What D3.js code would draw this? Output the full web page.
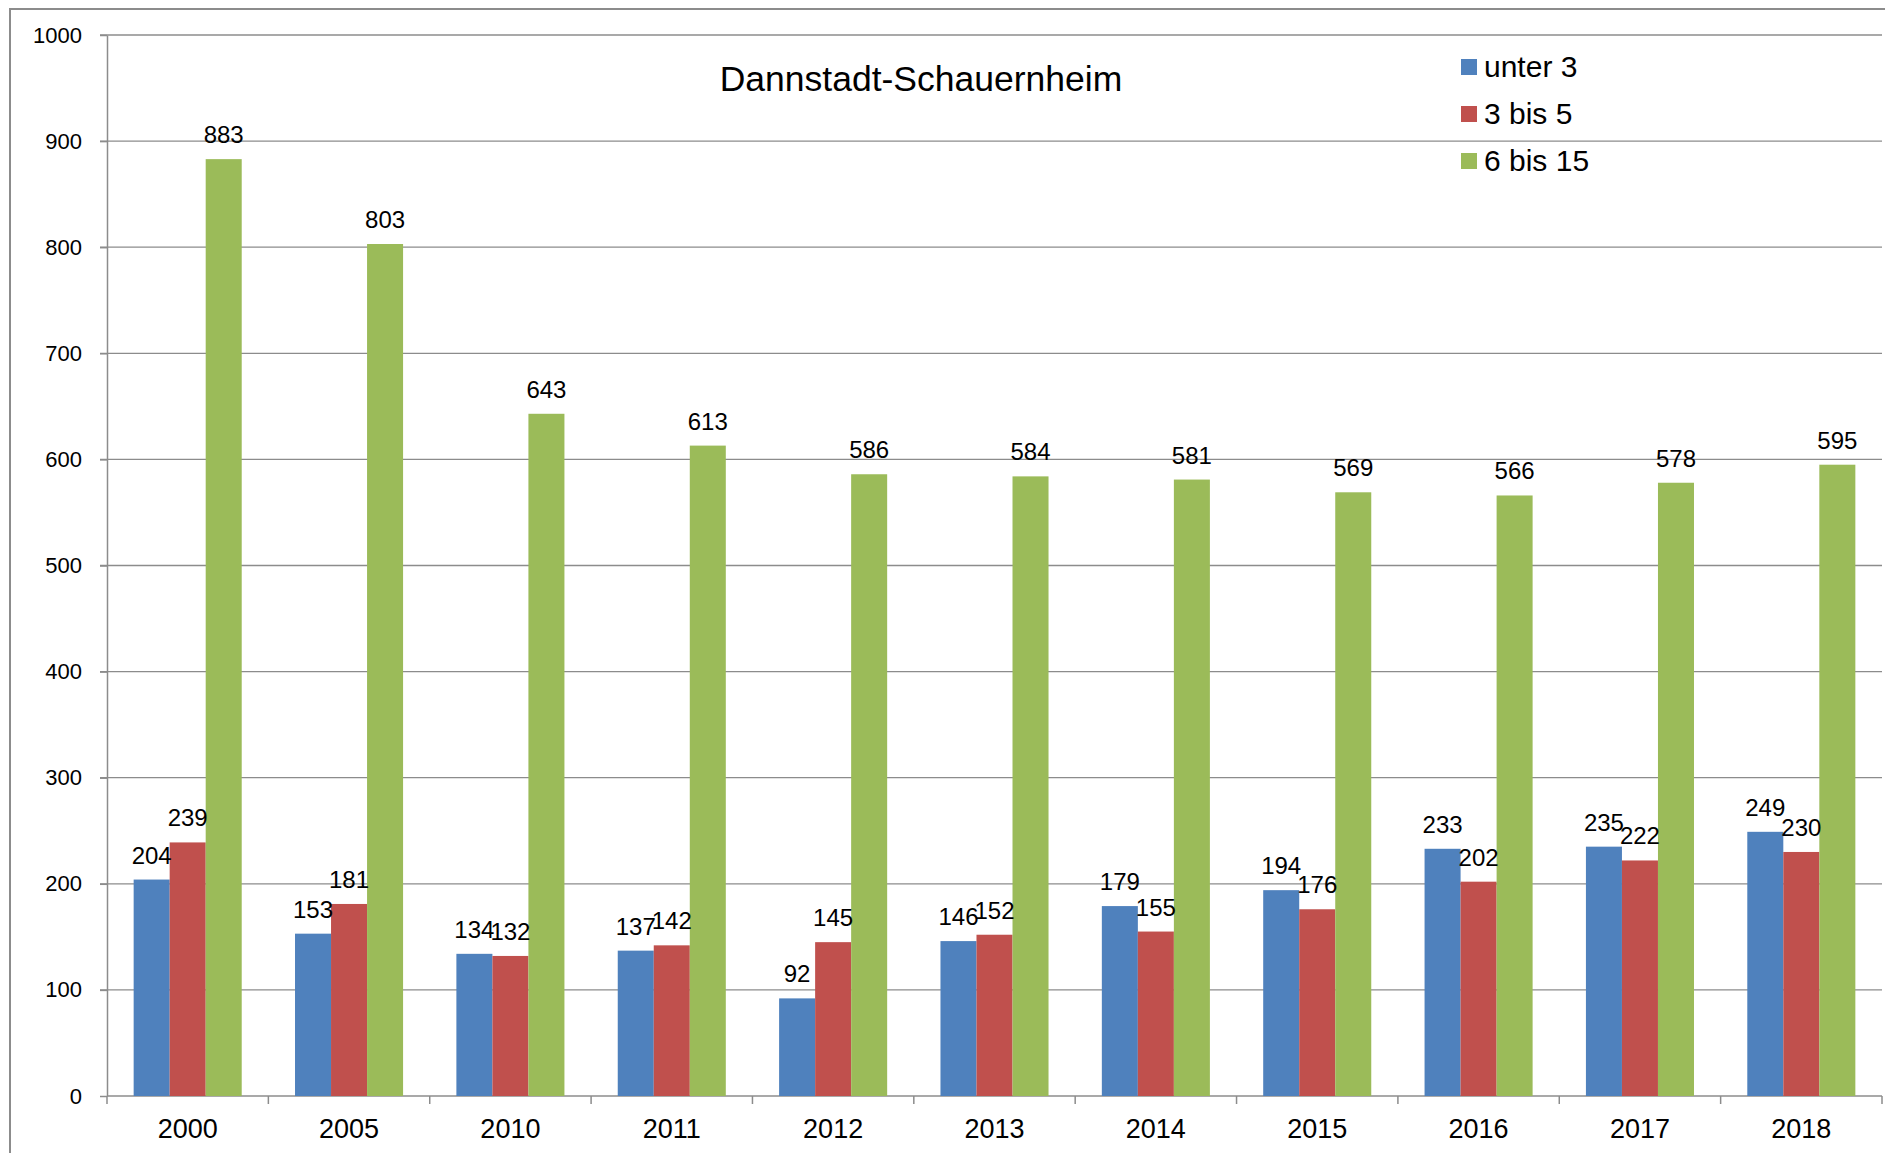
<!DOCTYPE html>
<html>
<head>
<meta charset="utf-8">
<script src="https://cdn.jsdelivr.net/npm/d3@7"></script>
<style>
  body { margin: 0; background: #fff; }
  svg { display: block; font-family: "Liberation Sans", Arial, sans-serif; }
  .grid line { stroke: #8c8c8c; stroke-width: 1.3; }
  .axis path, .axis line { stroke: #8c8c8c; stroke-width: 1.5; }
</style>
</head>
<body>
<div id="chart"></div>
<script>
// data
const years = ["2000", "2005", "2010", "2011", "2012", "2013", "2014", "2015", "2016", "2017", "2018"];
const seriesNames = ["unter 3", "3 bis 5", "6 bis 15"];
const unter3 = [204, 153, 134, 137, 92, 146, 179, 194, 233, 235, 249];
const bis5 = [239, 181, 132, 142, 145, 152, 155, 176, 202, 222, 230];
const bis15 = [883, 803, 643, 613, 586, 584, 581, 569, 566, 578, 595];
const yTicks = [0, 100, 200, 300, 400, 500, 600, 700, 800, 900, 1000];
const colors = ["#4f81bd", "#c0504d", "#9bbb59"];

const width = 1885;
const height = 1153;
const margin = { top: 35, right: 3, bottom: 57, left: 107 };

const svg = d3.select("#chart")
    .append("svg")
    .attr("width", width)
    .attr("height", height);

// outer chart frame (right and bottom run off the picture)
svg.append("rect")
    .attr("x", 10).attr("y", 9)
    .attr("width", width + 20).attr("height", height + 20)
    .attr("fill", "none")
    .attr("stroke", "#8c8c8c")
    .attr("stroke-width", 2);

const g = svg.append("g")
    .attr("transform", "translate(" + margin.left + "," + margin.top + ")");

const innerW = width - margin.left - margin.right;
const innerH = height - margin.top - margin.bottom;

const x0 = d3.scaleBand().domain(years).range([0, innerW]).padding(0);
const x1 = d3.scaleBand().domain(seriesNames).range([0, x0.bandwidth()])
    .paddingInner(0).paddingOuter(0.74);
const y = d3.scaleLinear().domain([0, 1000]).range([innerH, 0]);

// horizontal gridlines
g.append("g").attr("class", "grid")
    .selectAll("line")
    .data(yTicks.filter(d => d > 0))
    .enter().append("line")
    .attr("x1", -7).attr("x2", innerW)
    .attr("y1", d => y(d)).attr("y2", d => y(d));

// y axis
const yAxis = g.append("g").attr("class", "axis")
    .call(d3.axisLeft(y).tickValues(yTicks).tickFormat(d3.format("d"))
        .tickSize(7).tickSizeOuter(0).tickPadding(18));
yAxis.selectAll("text")
    .attr("font-size", 22)
    .attr("fill", "#000")
    .attr("font-family", "Liberation Sans, Arial, sans-serif");

// x axis: ticks at band boundaries
const xAxis = g.append("g").attr("class", "axis")
    .attr("transform", "translate(0," + innerH + ")");
xAxis.append("line")
    .attr("x1", 0).attr("x2", innerW);
xAxis.selectAll(".tk")
    .data(years.concat(["end"]))
    .enter().append("line")
    .attr("class", "tk")
    .attr("x1", (d, i) => i * x0.step()).attr("x2", (d, i) => i * x0.step())
    .attr("y1", 0).attr("y2", 8);
xAxis.selectAll("text")
    .data(years)
    .enter().append("text")
    .attr("x", d => x0(d) + x0.bandwidth() / 2)
    .attr("y", 42)
    .attr("text-anchor", "middle")
    .attr("font-size", 27)
    .attr("fill", "#000")
    .text(d => d);

// bars
const rows = years.map((yr, i) => ({
    year: yr,
    values: [unter3[i], bis5[i], bis15[i]]
}));

const groups = g.selectAll(".yr")
    .data(rows)
    .enter().append("g")
    .attr("class", "yr")
    .attr("transform", d => "translate(" + x0(d.year) + ",0)");

groups.selectAll("rect")
    .data(d => d.values.map((v, k) => ({ key: seriesNames[k], value: v, k: k })))
    .enter().append("rect")
    .attr("x", d => x1(d.key))
    .attr("width", x1.bandwidth())
    .attr("y", d => y(d.value))
    .attr("height", d => innerH - y(d.value))
    .attr("fill", d => colors[d.k]);

groups.selectAll(".lbl")
    .data(d => d.values.map((v, k) => ({ key: seriesNames[k], value: v })))
    .enter().append("text")
    .attr("class", "lbl")
    .attr("x", d => x1(d.key) + x1.bandwidth() / 2)
    .attr("y", d => y(d.value) - 16)
    .attr("text-anchor", "middle")
    .attr("font-size", 24)
    .attr("fill", "#000")
    .text(d => d.value);

// title
svg.append("text")
    .attr("x", 921)
    .attr("y", 91)
    .attr("text-anchor", "middle")
    .attr("font-size", 35.5)
    .attr("fill", "#000")
    .text("Dannstadt-Schauernheim");

// legend
const legend = svg.append("g")
    .attr("transform", "translate(1461,59)");
const li = legend.selectAll("g")
    .data(seriesNames)
    .enter().append("g")
    .attr("transform", (d, i) => "translate(0," + i * 47 + ")");
li.append("rect")
    .attr("width", 16).attr("height", 16)
    .attr("fill", (d, i) => colors[i]);
li.append("text")
    .attr("x", 23)
    .attr("y", 18)
    .attr("font-size", 30)
    .attr("fill", "#000")
    .text(d => d);
</script>
</body>
</html>
